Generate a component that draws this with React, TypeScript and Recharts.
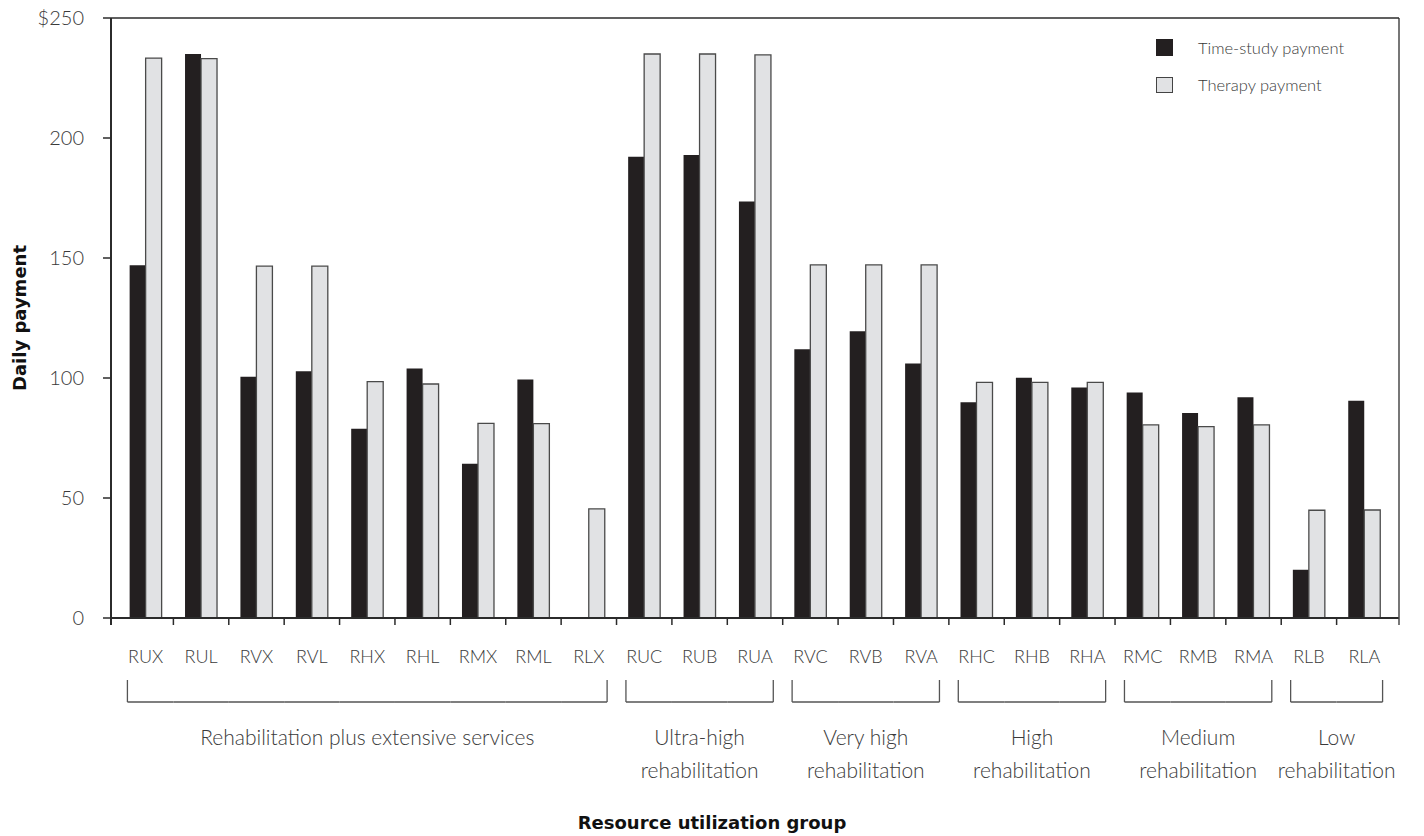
import React from 'react';
import { BarChart, Bar, XAxis, YAxis, Legend } from 'recharts';

const categories = ['RUX', 'RUL', 'RVX', 'RVL', 'RHX', 'RHL', 'RMX', 'RML', 'RLX', 'RUC', 'RUB', 'RUA', 'RVC', 'RVB', 'RVA', 'RHC', 'RHB', 'RHA', 'RMC', 'RMB', 'RMA', 'RLB', 'RLA'];
const timeStudyPayment = [147, 235, 100.5, 102.8, 78.9, 104, 64.3, 99.4, null, 192.2, 192.9, 173.5, 112, 119.5, 106, 89.9, 100.1, 96, 94, 85.4, 92, 20.1, 90.5];
const therapyPayment = [233.3, 233.1, 146.6, 146.6, 98.5, 97.5, 81.1, 81, 45.5, 235, 235, 234.6, 147.1, 147.1, 147.1, 98.2, 98.2, 98.2, 80.5, 79.7, 80.5, 44.9, 45];
const yTicks = [0, 50, 100, 150, 200, 250];
const groupLabels = [
  ['Rehabilitation plus extensive services'],
  ['Ultra-high', 'rehabilitation'],
  ['Very high', 'rehabilitation'],
  ['High', 'rehabilitation'],
  ['Medium', 'rehabilitation'],
  ['Low', 'rehabilitation'],
];
const groupSizes = [9, 3, 3, 3, 3, 2];
const seriesOrder = ['timeStudy', 'therapy'];

const data = categories.map((c, i) => ({
  rug: c,
  timeStudy: timeStudyPayment[i],
  therapy: therapyPayment[i],
}));

const W = 1424;
const H = 836;
const PLOT_H = 600;
const FONT = 'Lato, "Open Sans", sans-serif';
const BOLD = '"DejaVu Sans", Verdana, sans-serif';
const TEXT = '#3a3a3a';
const AXIS = '#2b2b2b';
const PAD = 7;

function XTick(props: any) {
  const { x, y, payload, index } = props;
  const half = payload && typeof payload.offset === 'number' && payload.offset > 0 ? payload.offset : 27.7;
  const n = categories.length;
  const left = x - half;
  const right = x + half;
  const inset = half * 0.34;
  let g = 0;
  let start = 0;
  while (g < groupSizes.length - 1 && index >= start + groupSizes[g]) {
    start += groupSizes[g];
    g++;
  }
  const isFirst = index === start;
  const isLast = index === start + groupSizes[g] - 1;
  const bx1 = isFirst ? left + inset : left;
  const bx2 = isLast ? right - inset : right;
  const by1 = y + 62;
  const by2 = y + 84;
  const center = x + (groupSizes[g] - 1) * half;
  const lines = groupLabels[g];
  const axisStart = x - half - index * 2 * half - PAD;
  const axisEnd = right + PAD;
  return (
    <g>
      {index > 0 && <line x1={left} y1={y} x2={left} y2={y + 7} stroke={AXIS} strokeWidth={1.5} />}
      {index === 0 && <line x1={left - PAD} y1={y} x2={left - PAD} y2={y + 7} stroke={AXIS} strokeWidth={2} />}
      {index === n - 1 && (
        <g>
          <line x1={axisEnd} y1={y - PLOT_H} x2={axisEnd} y2={y + 7} stroke="#4a4a4a" strokeWidth={1.5} />
          <line x1={axisStart} y1={y - PLOT_H} x2={axisEnd} y2={y - PLOT_H} stroke={AXIS} strokeWidth={1.5} />
        </g>
      )}
      <text x={x} y={y + 45} textAnchor="middle" fontFamily={FONT} fontWeight={300} fontSize={18} fill={TEXT}>
        {payload.value}
      </text>
      <line x1={bx1} y1={by2} x2={bx2} y2={by2} stroke="#555" strokeWidth={1.3} />
      {isFirst && <line x1={bx1} y1={by1} x2={bx1} y2={by2} stroke="#555" strokeWidth={1.3} />}
      {isLast && <line x1={bx2} y1={by1} x2={bx2} y2={by2} stroke="#555" strokeWidth={1.3} />}
      {isFirst &&
        lines.map((t, i) => (
          <text key={i} x={center} y={y + 127 + i * 33} textAnchor="middle" fontFamily={FONT} fontWeight={300} fontSize={21} fill={TEXT}>
            {t}
          </text>
        ))}
    </g>
  );
}

function YLabel(props: any) {
  const vb = props.viewBox || { x: 0, y: 18, width: 111, height: 600 };
  const cy = vb.y + vb.height / 2;
  return (
    <text x={26} y={cy} transform={`rotate(-90 26 ${cy})`} textAnchor="middle" fontFamily={BOLD} fontWeight="bold" fontSize={18} fill="#111">
      Daily payment
    </text>
  );
}

function XLabel(props: any) {
  const vb = props.viewBox || { x: 111, y: 618, width: 1288, height: 218 };
  return (
    <text x={W / 2} y={vb.y + 211} textAnchor="middle" fontFamily={BOLD} fontWeight="bold" fontSize={18} fill="#111">
      Resource utilization group
    </text>
  );
}

function LegendContent(props: any) {
  const payload = [...(props.payload || [])].sort(
    (a: any, b: any) => seriesOrder.indexOf(a.dataKey) - seriesOrder.indexOf(b.dataKey)
  );
  return (
    <div style={{ fontFamily: FONT, fontWeight: 300, fontSize: 16.5, color: TEXT }}>
      {payload.map((p: any, i: number) => {
        const isTherapy = p.dataKey === 'therapy';
        return (
          <div key={i} style={{ display: 'flex', alignItems: 'center', height: 37 }}>
            <span
              style={{
                display: 'inline-block',
                boxSizing: 'border-box',
                width: 17,
                height: isTherapy ? 16 : 17,
                background: isTherapy ? '#e1e2e4' : '#231f20',
                border: isTherapy ? '1.3px solid #444' : 'none',
                marginRight: 25,
              }}
            />
            <span>{p.value}</span>
          </div>
        );
      })}
    </div>
  );
}

export default function App() {
  return (
    <div style={{ position: 'absolute', left: 0, top: 0, width: W, height: H, background: '#fff' }}>
      <BarChart
        width={W}
        height={H}
        data={data}
        margin={{ top: 18, right: 25, bottom: 0, left: 0 }}
        barCategoryGap="21%"
        barGap={0}
      >
        <XAxis
          dataKey="rug"
          type="category"
          height={218}
          interval={0}
          padding={{ left: PAD, right: PAD }}
          axisLine={{ stroke: AXIS, strokeWidth: 2 }}
          tickLine={false}
          tickSize={0}
          tickMargin={0}
          tick={<XTick />}
          label={<XLabel />}
        />
        <YAxis
          type="number"
          domain={[0, 250]}
          ticks={yTicks}
          width={111}
          interval={0}
          axisLine={{ stroke: AXIS, strokeWidth: 2 }}
          tickLine={{ stroke: AXIS, strokeWidth: 1.5 }}
          tickSize={8}
          tickMargin={19}
          tickFormatter={(v: number) => (v === 250 ? '$250' : String(v))}
          tick={{ fontFamily: FONT, fontWeight: 300, fontSize: 20, fill: TEXT }}
          label={<YLabel />}
        />
        <Legend
          verticalAlign="middle"
          align="center"
          layout="vertical"
          content={<LegendContent />}
          wrapperStyle={{ position: 'absolute', top: 29, left: 1156, width: 240, right: 'auto', bottom: 'auto' }}
        />
        <Bar dataKey="timeStudy" name="Time-study payment" fill="#231f20" isAnimationActive={false} />
        <Bar dataKey="therapy" name="Therapy payment" fill="#e1e2e4" stroke="#4a4a4a" strokeWidth={1.3} isAnimationActive={false} />
      </BarChart>
    </div>
  );
}
